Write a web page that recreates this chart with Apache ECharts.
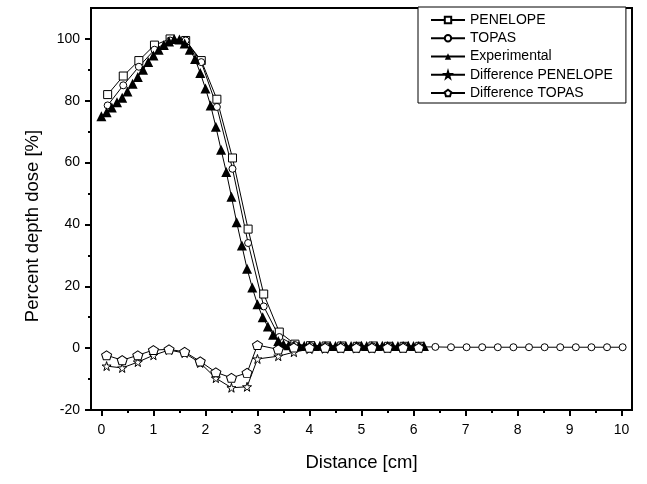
<!DOCTYPE html>
<html>
<head>
<meta charset="utf-8">
<script src="https://cdn.jsdelivr.net/npm/echarts@6/dist/echarts.min.js"></script>
<style>html,body{margin:0;padding:0;background:#fff}#c{width:647px;height:484px}</style>
</head>
<body>
<div id="c"></div>
<script>
// ---- data ----
const xTickLabels = [0,1,2,3,4,5,6,7,8,9,10];
const xMinorTicks = [0.5,1.5,2.5,3.5,4.5,5.5,6.5,7.5,8.5,9.5];
const yTickLabels = [-20,0,20,40,60,80,100];
const yMinorTicks = [-10,10,30,50,70,90];

const penX = [0.12,0.42,0.72,1.02,1.32,1.62,1.92,2.22,2.52,2.82,3.12,3.42,3.72,4.02,4.32,4.62,4.92,5.22,5.52,5.82,6.12];
const penY = [82,88,93,98,100,99.5,93,80.5,61.5,38.5,17.5,5.2,1.3,0.8,0.7,0.7,0.6,0.7,0.6,0.6,0.6];

const topX = [0.12,0.42,0.72,1.02,1.32,1.62,1.92,2.22,2.52,2.82,3.12,3.42,3.72,4.02,4.32,4.62,4.92,5.22,5.52,5.82,6.12,6.42,6.72,7.02,7.32,7.62,7.92,8.22,8.52,8.82,9.12,9.42,9.72,10.02];
const topY = [78.5,85,91,96.5,99.5,99.5,92.5,78,58,34,13.5,3.6,1.0,0.7,0.6,0.6,0.5,0.5,0.5,0.5,0.4,0.4,0.3,0.3,0.3,0.3,0.3,0.3,0.3,0.3,0.3,0.3,0.3,0.3];

const expX = [0,0.1,0.2,0.3,0.4,0.5,0.6,0.7,0.8,0.9,1.0,1.1,1.2,1.3,1.4,1.5,1.6,1.7,1.8,1.9,2.0,2.1,2.2,2.3,2.4,2.5,2.6,2.7,2.8,2.9,3.0,3.1,3.2,3.3,3.4,3.5,3.6,3.7,3.8,3.9,4.0,4.1,4.2,4.3,4.4,4.5,4.6,4.7,4.8,4.9,5.0,5.1,5.2,5.3,5.4,5.5,5.6,5.7,5.8,5.9,6.0,6.1,6.2];
const expY = [75,76.3,77.8,79.5,81,83,85.5,87.7,90,92.5,94.6,96.5,98,99.2,100,99.8,98.5,96.5,93.5,89,84,78.5,71.6,64.2,57,49,40.7,33.2,25.7,19.6,14.2,10,7,4.3,2.3,1.3,0.9,0.8,0.7,0.8,0.7,0.7,0.8,0.7,0.7,0.7,0.8,0.7,0.7,0.7,0.8,0.7,0.7,0.7,0.8,0.7,0.7,0.7,0.7,0.8,0.7,0.7,0.7];

const difX = [0.1,0.4,0.7,1.0,1.3,1.6,1.9,2.2,2.5,2.8,3.0,3.4,3.7,4.0,4.3,4.6,4.9,5.2,5.5,5.8,6.1];
const difPenY = [-5.8,-6.4,-4.5,-2.3,-0.6,-1.6,-4.8,-9.7,-12.8,-12.5,-3.5,-2.6,-1.3,-0.3,-0.2,-0.1,-0.1,-0.1,0,0,0];
const difTopY = [-2.3,-3.9,-2.3,-0.6,-0.4,-1.2,-4.3,-7.8,-9.6,-8.0,1.0,-0.4,0.2,0.1,0.1,0.1,0.1,0.1,0.1,0.1,0.1];

const starPath = 'path://M50,0 L61,35 L98,35 L68,57 L79,91 L50,70 L21,91 L32,57 L2,35 L39,35 Z';
const pentPath = 'path://M50,2 L97,36 L80,94 L20,94 L3,36 Z';

function pairs(xs, ys){ return xs.map((x,i)=>[x, ys[i]]); }

const font = 'Liberation Sans, Arial, sans-serif';
const hollow = {color:'#fff', borderColor:'#000', borderWidth:1};
const line = {color:'#000', width:1};

const chart = echarts.init(document.getElementById('c'), null, {renderer:'canvas'});
chart.setOption({
  animation:false,
  backgroundColor:'#fff',
  grid:{left:91, right:15, top:8, bottom:74, show:true, borderColor:'#000', borderWidth:2, backgroundColor:'transparent'},
  legend:{
    orient:'vertical', left:418, top:7,
    padding:[6,13,3,12], itemGap:4.25, itemWidth:34, itemHeight:8,
    borderColor:'#000', borderWidth:1, backgroundColor:'#fff',
    textStyle:{fontFamily:font, fontSize:14, color:'#000', lineHeight:14},
    data:['PENELOPE','TOPAS','Experimental','Difference PENELOPE','Difference TOPAS']
  },
  xAxis:[{
    type:'value', min:-0.2, max:10.2,
    name:'Distance [cm]', nameLocation:'middle', nameGap:43,
    nameTextStyle:{fontFamily:font, fontSize:18.5, color:'#000'},
    axisLine:{show:true, onZero:false, lineStyle:{color:'#000', width:2}},
    axisTick:{show:true, inside:false, length:6, customValues:xTickLabels, lineStyle:{color:'#000', width:2}},
    axisLabel:{customValues:xTickLabels, margin:13, fontFamily:font, fontSize:14, color:'#000'},
    splitLine:{show:false}
  },{
    type:'value', min:-0.2, max:10.2, position:'bottom',
    axisLine:{show:false, onZero:false},
    axisTick:{show:true, inside:false, length:3, customValues:xMinorTicks, lineStyle:{color:'#000', width:2}},
    axisLabel:{show:false}, splitLine:{show:false}
  }],
  yAxis:[{
    type:'value', min:-20, max:110,
    name:'Percent depth dose [%]', nameLocation:'middle', nameGap:49,
    nameTextStyle:{fontFamily:font, fontSize:18.5, color:'#000', padding:[0,34,0,0]},
    axisLine:{show:true, onZero:false, lineStyle:{color:'#000', width:2}},
    axisTick:{show:true, inside:false, length:6, customValues:yTickLabels, lineStyle:{color:'#000', width:2}},
    axisLabel:{customValues:yTickLabels, margin:11, fontFamily:font, fontSize:14, color:'#000'},
    splitLine:{show:false}
  },{
    type:'value', min:-20, max:110, position:'left',
    axisLine:{show:false, onZero:false},
    axisTick:{show:true, inside:false, length:3, customValues:yMinorTicks, lineStyle:{color:'#000', width:2}},
    axisLabel:{show:false}, splitLine:{show:false}
  }],
  series:[
    {name:'PENELOPE', type:'line', data:pairs(penX,penY), symbol:'rect', symbolSize:8, showAllSymbol:true,
     itemStyle:hollow, lineStyle:line},
    {name:'TOPAS', type:'line', data:pairs(topX,topY), symbol:'circle', symbolSize:7, showAllSymbol:true,
     itemStyle:hollow, lineStyle:line},
    {name:'Experimental', type:'line', data:pairs(expX,expY), symbol:'triangle', symbolSize:[10,10], showAllSymbol:true,
     itemStyle:{color:'#000', borderColor:'#000', borderWidth:0}, lineStyle:line},
    {name:'Difference PENELOPE', type:'line', data:pairs(difX,difPenY), symbol:starPath, symbolSize:9, showAllSymbol:true,
     itemStyle:hollow, lineStyle:line},
    {name:'Difference TOPAS', type:'line', data:pairs(difX,difTopY), symbol:pentPath, symbolSize:[10,9], showAllSymbol:true,
     itemStyle:hollow, lineStyle:line}
  ]
});
</script>
</body>
</html>
